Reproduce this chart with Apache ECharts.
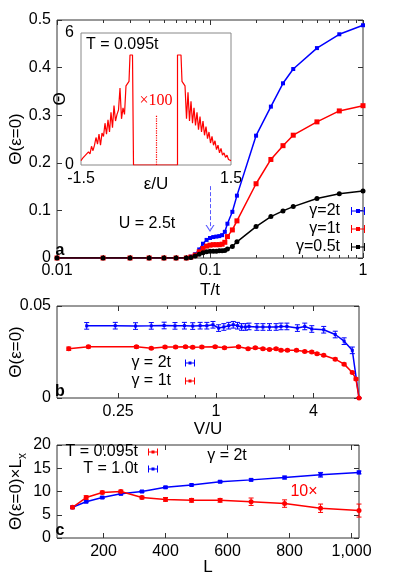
<!DOCTYPE html>
<html>
<head>
<meta charset="utf-8">
<script src="https://cdn.jsdelivr.net/npm/echarts@6/dist/echarts.min.js"></script>
<style>
  html, body { margin: 0; padding: 0; background: #fff; }
  #chart { width: 395px; height: 577px; }
</style>
</head>
<body>
<div id="chart"></div>
<script>
// ---- panel a : Theta(eps=0) vs T/t, U = 2.5t
var tempT = [0.01, 0.02, 0.03, 0.04, 0.05, 0.06, 0.07, 0.075, 0.08, 0.085, 0.09, 0.095, 0.1, 0.105,
  0.11, 0.115, 0.12, 0.125, 0.13, 0.14, 0.15, 0.2, 0.25, 0.3, 0.35, 0.5, 0.7, 1];
var thetaG2 = [0, 0, 0, 0, 0, 0, 0, 0.003, 0.008, 0.018, 0.030, 0.038, 0.042, 0.044,
  0.045, 0.046, 0.048, 0.055, 0.072, 0.097, 0.131, 0.257, 0.318, 0.367, 0.397, 0.441, 0.470, 0.489];
var thetaG1 = [0, 0, 0, 0, 0, 0, 0, 0.002, 0.006, 0.013, 0.020, 0.025, 0.027, 0.028,
  0.028, 0.028, 0.029, 0.033, 0.045, 0.059, 0.078, 0.156, 0.207, 0.236, 0.258, 0.286, 0.309, 0.320];
var thetaG05 = [0, 0, 0, 0, 0, 0, 0, 0.001, 0.004, 0.008, 0.011, 0.013, 0.014, 0.014,
  0.014, 0.015, 0.015, 0.016, 0.019, 0.024, 0.034, 0.066, 0.087, 0.099, 0.108, 0.125, 0.135, 0.141];

// ---- inset : Theta(eps) at T = 0.095t
var epsIn = [-1.5, -1.47, -1.44, -1.41, -1.38, -1.35, -1.32, -1.29, -1.26, -1.23, -1.2, -1.17, -1.14,
  -1.11, -1.08, -1.05, -1.02, -0.99, -0.96, -0.93, -0.9, -0.87, -0.84, -0.81, -0.78, -0.75, -0.72,
  -0.69, -0.66, -0.63, -0.6, -0.57, -0.54, -0.52, -0.47, -0.45,
  0.43, 0.43, 0.5, 0.52, 0.55, 0.58, 0.61, 0.64, 0.67, 0.7, 0.73, 0.76, 0.79, 0.82, 0.85, 0.88, 0.91,
  0.94, 0.97, 1.0, 1.03, 1.06, 1.09, 1.12, 1.15, 1.18, 1.21, 1.24, 1.27, 1.3, 1.33, 1.36, 1.39, 1.42,
  1.45, 1.48, 1.5];
var thetaIn = [0.2, 0.3, 0.25, 0.45, 0.4, 0.6, 0.5, 0.85, 0.65, 0.9, 1.25, 0.95, 1.4,
  0.9, 1.45, 1.3, 1.9, 1.4, 2.05, 1.5, 2.4, 1.7, 2.7, 2.0, 2.3, 2.5, 3.5,
  2.1, 2.6, 2.3, 3.6, 3.7, 3.8, 5.0, 5.0, 0,
  0, 5.0, 5.0, 3.8, 3.7, 3.6, 2.1, 3.3, 2.0, 2.9, 1.9, 2.6, 1.8, 2.4, 1.6, 2.2, 1.5,
  2.0, 1.35, 1.75, 1.2, 1.5, 1.0, 1.3, 0.9, 1.1, 0.7, 0.9, 0.55, 0.75, 0.45, 0.55, 0.35, 0.45,
  0.25, 0.3, 0.2];

// ---- panel b : Theta(eps=0) vs V/U
var vuG2 = [0.16, 0.24, 0.32, 0.40, 0.48, 0.56, 0.64, 0.72, 0.80, 0.88, 0.96, 1.04, 1.12, 1.20, 1.28,
  1.36, 1.44, 1.52, 1.60, 1.79, 1.95, 2.14, 2.35, 2.52, 2.74, 3.18, 3.53, 3.9, 4.62, 5.44, 6.17, 6.93, 7.62];
var thB2 = [0.0392, 0.0393, 0.0391, 0.0392, 0.0394, 0.0392, 0.0393, 0.0391, 0.0393, 0.0393, 0.0398,
  0.0380, 0.0386, 0.0393, 0.0398, 0.0393, 0.0386, 0.0386, 0.0389, 0.0386, 0.0386, 0.0386, 0.0386,
  0.0389, 0.0389, 0.0380, 0.0389, 0.0375, 0.0371, 0.0345, 0.0309, 0.0259, 0];
var errB2 = [0.0018, 0.0018, 0.0018, 0.0018, 0.0018, 0.0018, 0.0018, 0.0018, 0.0018, 0.0018, 0.0018,
  0.0018, 0.0018, 0.0018, 0.0018, 0.0018, 0.0018, 0.0018, 0.0018, 0.0018, 0.0018, 0.0018, 0.0018,
  0.0018, 0.0018, 0.0018, 0.0018, 0.0018, 0.0018, 0.0018, 0.0018, 0.0018, 0];
var vuG1 = [0.124, 0.164, 0.324, 0.40, 0.486, 0.565, 0.65, 0.72, 0.82, 0.99, 1.13, 1.38, 1.58, 1.75,
  1.95, 2.14, 2.35, 2.52, 2.76, 3.14, 3.53, 3.9, 4.2, 4.62, 5.44, 6.17, 6.93, 7.3, 7.62];
var thB1 = [0.0268, 0.0279, 0.0278, 0.0270, 0.0277, 0.0277, 0.0278, 0.0276, 0.0277, 0.0279, 0.0273,
  0.0279, 0.0268, 0.0273, 0.0268, 0.0264, 0.0268, 0.0260, 0.0259, 0.0259, 0.0253, 0.0250, 0.0241,
  0.0232, 0.0211, 0.0184, 0.0139, 0.0103, 0];
var errB1 = [0.0009, 0.0007, 0.0007, 0.0006, 0.0006, 0.0006, 0.0006, 0.0006, 0.0006, 0.0006, 0.0006,
  0.0006, 0.0006, 0.0006, 0.0006, 0.0006, 0.0006, 0.0006, 0.0006, 0.0006, 0.0006, 0.0006, 0.0006,
  0.0006, 0.0006, 0.0006, 0.0006, 0.0006, 0];

// ---- panel c : Theta(eps=0) x Lx vs L
var sizeL = [100, 144, 196, 256, 324, 400, 484, 576, 676, 784, 900, 1024];
var thC095 = [6.6, 8.7, 9.8, 10.0, 8.7, 8.3, 8.1, 8.1, 7.8, 7.4, 6.4, 5.9];
var errC095 = [0.3, 0.4, 0.3, 0.3, 0.3, 0.4, 0.4, 0.4, 0.8, 0.8, 0.9, 1.4];
var thC10 = [6.6, 7.8, 8.7, 9.5, 10.0, 10.9, 11.4, 12.1, 12.5, 13.0, 13.6, 14.1];
var errC10 = [0.2, 0.2, 0.2, 0.2, 0.2, 0.2, 0.2, 0.2, 0.2, 0.3, 0.5, 0.3];

// tick positions
var minorTicksA = [0.02, 0.03, 0.04, 0.05, 0.06, 0.07, 0.08, 0.09, 0.2, 0.3, 0.4, 0.5, 0.6, 0.7, 0.8, 0.9];
var ticksB = [0.25, 1, 4];
var minorTicksB = [0.5, 0.75, 2, 3];
var ticksC = [200, 400, 600, 800, 1000];
var ticksInset = [-1.5, 1.5];

var FONT = '"Liberation Sans", Arial, sans-serif';
var BORDER = '#333';

function ax(o) {
  var a = {
    splitLine: { show: false },
    axisLine: { show: false, onZero: false },
    axisTick: Object.assign({ show: true, inside: true, length: 5, lineStyle: { color: BORDER } }, o.tick || {}),
    axisLabel: Object.assign({ show: false, color: '#000', fontSize: 16, fontFamily: FONT }, o.label || {}),
    nameTextStyle: { color: '#000', fontSize: 17, fontFamily: FONT },
    nameMoveOverlap: false
  };
  delete o.tick; delete o.label;
  return Object.assign(a, o);
}

function pairs(xs, ys) {
  return xs.map(function (x, i) { return [x, ys[i]]; });
}

function errorBars(xs, ys, es, xi, yi, color) {
  return {
    type: 'custom', xAxisIndex: xi, yAxisIndex: yi, silent: true, z: 3,
    itemStyle: { color: color },
    encode: { x: 0, y: [1, 2] },
    data: xs.map(function (x, i) { return [x, ys[i] - es[i], ys[i] + es[i]]; }),
    renderItem: function (params, api) {
      var p1 = api.coord([api.value(0), api.value(2)]);
      var p2 = api.coord([api.value(0), api.value(1)]);
      var w = 2.5;
      var st = { stroke: color, lineWidth: 1 };
      return {
        type: 'group', children: [
          { type: 'line', shape: { x1: p1[0], y1: p1[1], x2: p2[0], y2: p2[1] }, style: st },
          { type: 'line', shape: { x1: p1[0] - w, y1: p1[1], x2: p1[0] + w, y2: p1[1] }, style: st },
          { type: 'line', shape: { x1: p2[0] - w, y1: p2[1], x2: p2[0] + w, y2: p2[1] }, style: st }
        ]
      };
    }
  };
}

function lineSeries(name, data, xi, yi, color, symbol, size) {
  return {
    name: name, type: 'line', xAxisIndex: xi, yAxisIndex: yi, data: data,
    symbol: symbol, symbolSize: size, showSymbol: true,
    itemStyle: { color: color }, lineStyle: { color: color, width: 1.5 }
  };
}

var iconA = 'path://M0,0h1v8h-1zM0,3.5h14v1h-14zM13,0h1v8h-1zM5,2h4v4h-4z';
var iconS = 'path://M0,0h1v7h-1zM0,3h10v1h-10zM9,0h1v7h-1zM3.5,2h3v3h-3z';
var chevron = 'path://M0,8L5,0L10,8L8.6,8L5,2.3L1.4,8Z';

function legendBox(names, right, top, w, h, icon, gap, padR) {
  return {
    data: names, orient: 'vertical', align: 'right', right: right, top: top,
    padding: 0, itemGap: gap, itemWidth: w, itemHeight: h, icon: icon,
    selectedMode: false,
    textStyle: { fontSize: 16, fontFamily: FONT, color: '#000', lineHeight: 16, padding: [0, padR, 0, 0] }
  };
}

function txt(x, y, s, extra) {
  return {
    type: 'text', x: x, y: y, silent: true, z: 100,
    style: Object.assign({ text: s, fontSize: 16, fontFamily: FONT, fill: '#000',
      align: 'center', verticalAlign: 'middle' }, extra || {})
  };
}

var chart = echarts.init(document.getElementById('chart'), null, { renderer: 'canvas' });

chart.setOption({
  animation: false,
  backgroundColor: '#fff',
  grid: [
    { left: 53, top: 20, width: 310, height: 238, show: true, borderColor: BORDER, borderWidth: 1 },
    { left: 81, top: 33, width: 150, height: 132, show: true, borderColor: '#888', borderWidth: 1, backgroundColor: '#fff' },
    { left: 53, top: 306, width: 306, height: 92, show: true, borderColor: BORDER, borderWidth: 1 },
    { left: 53, top: 445, width: 306, height: 93, show: true, borderColor: BORDER, borderWidth: 1 }
  ],
  xAxis: [
    ax({ gridIndex: 0, type: 'log', logBase: 10, min: 0.01, max: 1, position: 'bottom',
      label: { show: true, margin: 5 }, name: 'T/t', nameLocation: 'middle', nameGap: 24 }),
    ax({ gridIndex: 0, type: 'log', logBase: 10, min: 0.01, max: 1, position: 'bottom',
      tick: { customValues: minorTicksA, length: 3 } }),
    ax({ gridIndex: 0, type: 'log', logBase: 10, min: 0.01, max: 1, position: 'top' }),
    ax({ gridIndex: 0, type: 'log', logBase: 10, min: 0.01, max: 1, position: 'top',
      tick: { customValues: minorTicksA, length: 3 } }),
    ax({ gridIndex: 1, type: 'value', min: -1.5, max: 1.5, position: 'bottom',
      tick: { show: false }, label: { show: true, customValues: ticksInset, margin: 6 },
      name: 'ε/U', nameLocation: 'middle', nameGap: 11 }),
    ax({ gridIndex: 2, type: 'log', logBase: 4, min: 0.105, max: 7.62, position: 'bottom',
      tick: { customValues: ticksB }, label: { show: true, customValues: ticksB, margin: 6 },
      name: 'V/U', nameLocation: 'middle', nameGap: 23 }),
    ax({ gridIndex: 2, type: 'log', logBase: 4, min: 0.105, max: 7.62, position: 'bottom',
      tick: { customValues: minorTicksB, length: 3 } }),
    ax({ gridIndex: 2, type: 'log', logBase: 4, min: 0.105, max: 7.62, position: 'top',
      tick: { customValues: ticksB } }),
    ax({ gridIndex: 2, type: 'log', logBase: 4, min: 0.105, max: 7.62, position: 'top',
      tick: { customValues: minorTicksB, length: 3 } }),
    ax({ gridIndex: 3, type: 'value', min: 50, max: 1024, position: 'bottom',
      tick: { customValues: ticksC }, label: { show: true, customValues: ticksC, margin: 6 },
      name: 'L', nameLocation: 'middle', nameGap: 21 }),
    ax({ gridIndex: 3, type: 'value', min: 50, max: 1024, position: 'top',
      tick: { customValues: ticksC } })
  ],
  yAxis: [
    ax({ gridIndex: 0, type: 'value', min: 0, max: 0.5, interval: 0.1, position: 'left',
      label: { show: true, margin: 6 }, name: 'Θ(ε=0)', nameLocation: 'middle', nameGap: 32, nameRotate: 90 }),
    ax({ gridIndex: 0, type: 'value', min: 0, max: 0.5, interval: 0.1, position: 'right' }),
    ax({ gridIndex: 1, type: 'value', min: 0, max: 6, interval: 6, position: 'left',
      tick: { show: false }, label: { show: true, margin: 7 },
      name: 'Θ', nameLocation: 'middle', nameGap: 12, nameRotate: 90 }),
    ax({ gridIndex: 2, type: 'value', min: 0, max: 0.05, interval: 0.05, position: 'left',
      label: { show: true, margin: 6 }, name: 'Θ(ε=0)', nameLocation: 'middle', nameGap: 32, nameRotate: 90 }),
    ax({ gridIndex: 2, type: 'value', min: 0, max: 0.05, interval: 0.05, position: 'right' }),
    ax({ gridIndex: 3, type: 'value', min: 0, max: 20, interval: 5, position: 'left',
      label: { show: true, margin: 6 }, name: '{m|Θ(ε=0)×L}{s|x}', nameLocation: 'middle',
      nameGap: 32, nameRotate: 90,
      nameTextStyle: { color: '#000', fontSize: 17, fontFamily: FONT,
        rich: { m: { fontSize: 17, fontFamily: FONT, lineHeight: 22, verticalAlign: 'bottom' },
          s: { fontSize: 12, fontFamily: FONT, lineHeight: 22, verticalAlign: 'bottom', padding: [0, 0, -4, 0] } } } }),
    ax({ gridIndex: 3, type: 'value', min: 0, max: 20, interval: 5, position: 'right' })
  ],
  legend: [
    legendBox(['γ=2t', 'γ=1t', 'γ=0.5t'], 30, 203, 14, 8, iconA, 2, 6),
    legendBox(['γ = 2t', 'γ = 1t'], 200, 355, 10, 7, iconS, 2, 9),
    legendBox(['T = 0.095t', 'T = 1.0t'], 237, 444, 10, 7, iconS, 1, 5)
  ],
  series: [
    Object.assign(lineSeries('γ=2t', pairs(tempT, thetaG2), 0, 0, '#0000ff', 'rect', 4), {
      markLine: {
        silent: true, symbol: ['none', chevron], symbolSize: [9, 7],
        label: { show: false },
        lineStyle: { color: '#5a5aff', width: 1, type: 'dashed' },
        data: [[{ coord: [0.1, 0.151] }, { coord: [0.1, 0.062] }]]
      }
    }),
    lineSeries('γ=1t', pairs(tempT, thetaG1), 0, 0, '#ff0000', 'rect', 5),
    lineSeries('γ=0.5t', pairs(tempT, thetaG05), 0, 0, '#000000', 'circle', 5),
    {
      type: 'line', xAxisIndex: 4, yAxisIndex: 2, data: pairs(epsIn, thetaIn),
      showSymbol: false, symbol: 'none', lineStyle: { color: '#ff0000', width: 1.2 },
      markLine: {
        silent: true, symbol: 'none', label: { show: false },
        lineStyle: { color: '#ff0000', width: 1.2, type: 'dotted' },
        data: [[{ coord: [0, 0] }, { coord: [0, 2.24] }]]
      }
    },
    lineSeries('γ = 2t', pairs(vuG2, thB2), 5, 3, '#0000ff', 'rect', 3),
    errorBars(vuG2, thB2, errB2, 5, 3, '#0000ff'),
    lineSeries('γ = 1t', pairs(vuG1, thB1), 5, 3, '#ff0000', 'circle', 5),
    errorBars(vuG1, thB1, errB1, 5, 3, '#ff0000'),
    lineSeries('T = 1.0t', pairs(sizeL, thC10), 9, 5, '#0000ff', 'rect', 4),
    errorBars(sizeL, thC10, errC10, 9, 5, '#0000ff'),
    lineSeries('T = 0.095t', pairs(sizeL, thC095), 9, 5, '#ff0000', 'circle', 5),
    errorBars(sizeL, thC095, errC095, 9, 5, '#ff0000')
  ],
  graphic: [
    txt(86, 45, 'T = 0.095t', { align: 'left' }),
    txt(156, 101, '×100', { fill: '#ff0000', fontSize: 16, fontFamily: '"Liberation Serif", serif' }),
    txt(147, 224, 'U = 2.5t'),
    txt(60, 251, 'a', { fontWeight: 'bold', fontSize: 16 }),
    txt(60, 392, 'b', { fontWeight: 'bold', fontSize: 16 }),
    txt(60, 531, 'c', { fontWeight: 'bold', fontSize: 16 }),
    txt(227, 456, 'γ = 2t'),
    txt(304, 492, '10×', { fill: '#ff0000' })
  ]
});
</script>
</body>
</html>
